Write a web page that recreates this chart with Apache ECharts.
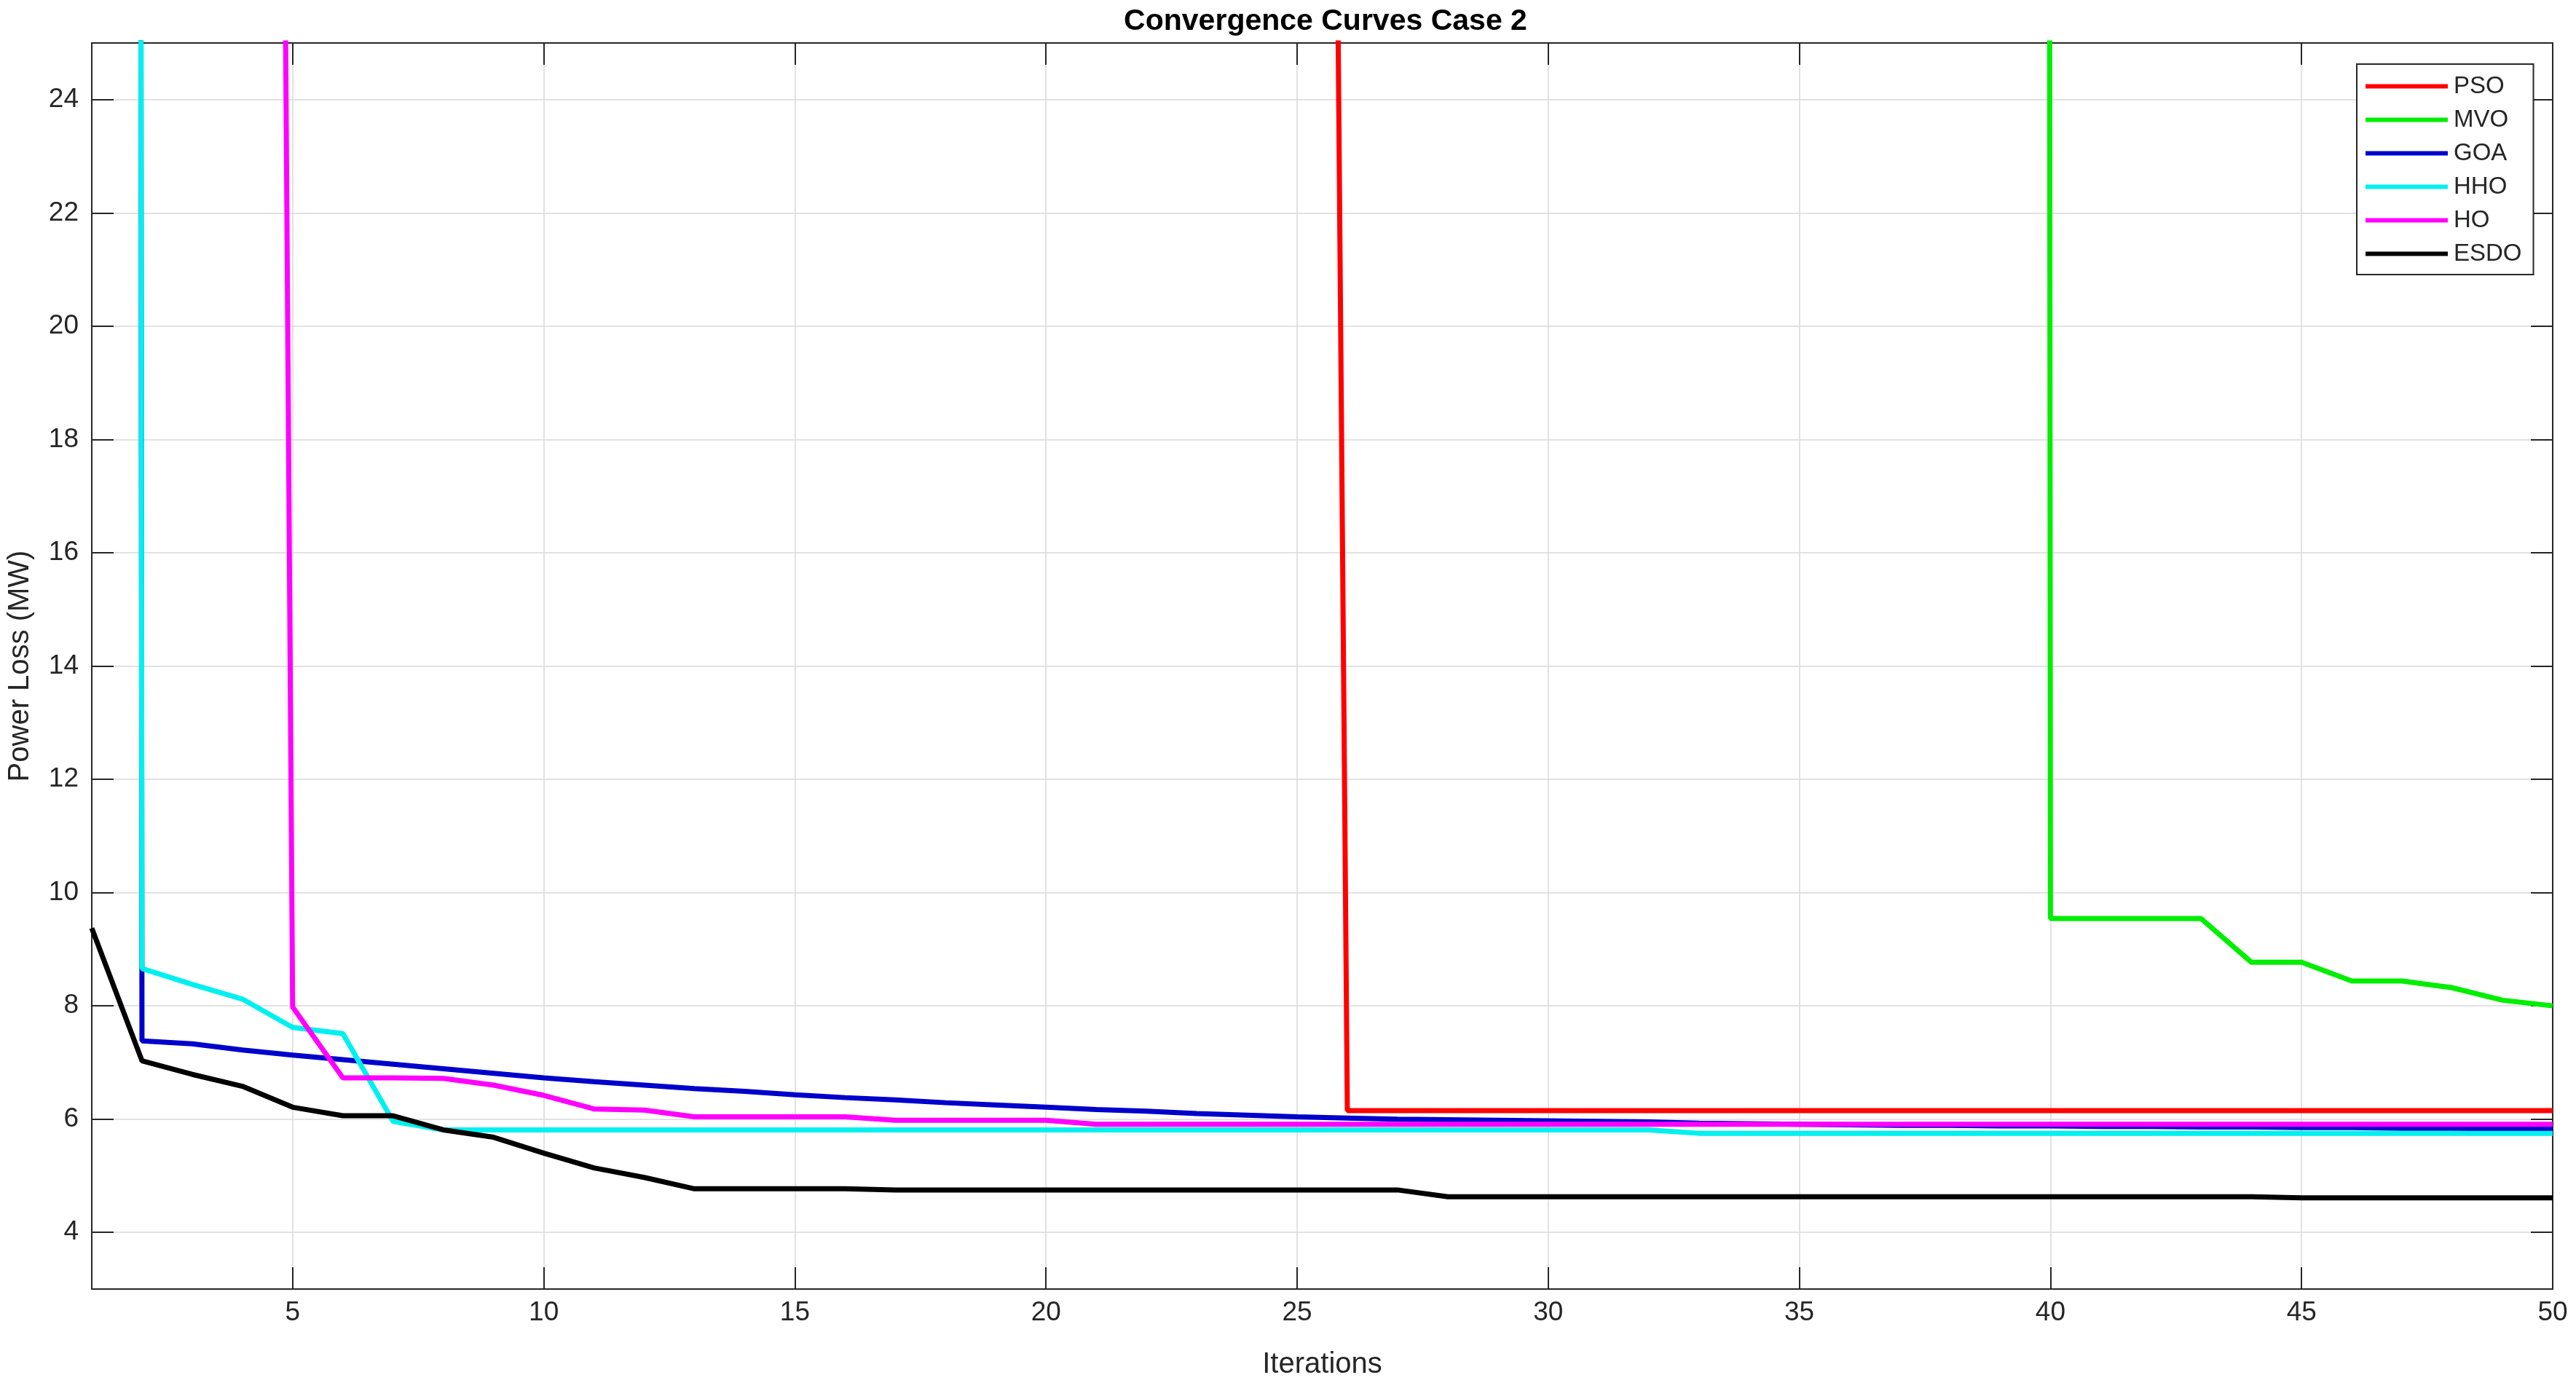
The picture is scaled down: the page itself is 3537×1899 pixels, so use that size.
<!DOCTYPE html>
<html>
<head>
<meta charset="utf-8">
<title>Convergence Curves Case 2</title>
<script src="https://cdn.jsdelivr.net/npm/echarts@6/dist/echarts.min.js"></script>
<style>
  html, body { margin: 0; padding: 0; background: #fff; }
  #chart { width: 3537px; height: 1899px; }
</style>
</head>
<body>
<div id="chart"></div>
<script>
const iterations = [1, 2, 3, 4, 5, 6, 7, 8, 9, 10, 11, 12, 13, 14, 15, 16, 17, 18, 19, 20,
  21, 22, 23, 24, 25, 26, 27, 28, 29, 30, 31, 32, 33, 34, 35, 36, 37, 38, 39, 40,
  41, 42, 43, 44, 45, 46, 47, 48, 49, 50]

// early values run far off the top of the plot, they only show as the steep drops
const pso = [110, 110, 110, 110, 110, 110, 110, 110, 110, 110, 110, 110, 110, 110, 110, 110, 110, 110, 110, 110,
  110, 110, 110, 110, 110, 6.15, 6.15, 6.15, 6.15, 6.15, 6.15, 6.15, 6.15, 6.15, 6.15, 6.15, 6.15, 6.15, 6.15, 6.15,
  6.15, 6.15, 6.15, 6.15, 6.15, 6.15, 6.15, 6.15, 6.15, 6.15]
const mvo = [1000, 1000, 1000, 1000, 1000, 1000, 1000, 1000, 1000, 1000, 1000, 1000, 1000, 1000, 1000, 1000, 1000, 1000, 1000, 1000,
  1000, 1000, 1000, 1000, 1000, 1000, 1000, 1000, 1000, 1000, 1000, 1000, 1000, 1000, 1000, 1000, 1000, 1000, 1000, 9.54,
  9.54, 9.54, 9.54, 8.77, 8.77, 8.44, 8.44, 8.32, 8.10, 8.00]
const goa = [900, 7.38, 7.33, 7.22, 7.13, 7.05, 6.97, 6.89, 6.81, 6.73, 6.66, 6.60, 6.54, 6.49, 6.43, 6.38, 6.34, 6.29, 6.25, 6.21,
  6.17, 6.14, 6.10, 6.07, 6.04, 6.02, 6.00, 5.99, 5.98, 5.97, 5.96, 5.95, 5.93, 5.92, 5.91, 5.90, 5.89, 5.89, 5.88, 5.88,
  5.87, 5.87, 5.86, 5.86, 5.85, 5.85, 5.84, 5.84, 5.83, 5.83]
const hho = [800, 8.66, 8.38, 8.12, 7.62, 7.51, 5.96, 5.81, 5.81, 5.81, 5.81, 5.81, 5.81, 5.81, 5.81, 5.81, 5.81, 5.81, 5.81, 5.81,
  5.81, 5.81, 5.81, 5.81, 5.81, 5.81, 5.81, 5.81, 5.81, 5.81, 5.81, 5.81, 5.75, 5.75, 5.75, 5.75, 5.75, 5.75, 5.75, 5.75,
  5.75, 5.75, 5.75, 5.75, 5.75, 5.75, 5.75, 5.75, 5.75, 5.75]
const ho = [130, 130, 130, 130, 7.98, 6.73, 6.73, 6.72, 6.60, 6.42, 6.18, 6.16, 6.04, 6.04, 6.04, 6.04, 5.98, 5.98, 5.98, 5.98,
  5.91, 5.91, 5.91, 5.91, 5.91, 5.91, 5.91, 5.91, 5.91, 5.91, 5.91, 5.91, 5.91, 5.91, 5.91, 5.91, 5.91, 5.91, 5.91, 5.91,
  5.91, 5.91, 5.91, 5.91, 5.91, 5.91, 5.91, 5.91, 5.91, 5.91]
const esdo = [9.37, 7.03, 6.79, 6.58, 6.21, 6.06, 6.06, 5.81, 5.68, 5.40, 5.14, 4.97, 4.77, 4.77, 4.77, 4.77, 4.75, 4.75, 4.75, 4.75,
  4.75, 4.75, 4.75, 4.75, 4.75, 4.75, 4.75, 4.63, 4.63, 4.63, 4.63, 4.63, 4.63, 4.63, 4.63, 4.63, 4.63, 4.63, 4.63, 4.63,
  4.63, 4.63, 4.63, 4.63, 4.61, 4.61, 4.61, 4.61, 4.61, 4.61]

const xTicks = [5, 10, 15, 20, 25, 30, 35, 40, 45, 50]
const yTicks = [4, 6, 8, 10, 12, 14, 16, 18, 20, 22, 24]

const names = ['PSO', 'MVO', 'GOA', 'HHO', 'HO', 'ESDO']
const colors = ['#ff0000', '#00ee00', '#0000cc', '#00f0f0', '#ff00ff', '#000000']
const values = [pso, mvo, goa, hho, ho, esdo]

const font = '"Liberation Sans", Arial, Helvetica, sans-serif'
const ink = '#262626'

const chart = echarts.init(document.getElementById('chart'))

const axisLine = { show: true, onZero: false, lineStyle: { color: ink, width: 2 } }

chart.setOption({
  animation: false,
  textStyle: { fontFamily: font, color: ink },
  title: {
    text: 'Convergence Curves Case 2',
    left: 1815,
    top: 4,
    textAlign: 'center',
    textStyle: { fontFamily: font, fontSize: 41, fontWeight: 'bold', color: '#000' }
  },
  legend: {
    orient: 'vertical',
    left: 3236,
    top: 88,
    padding: [14, 16, 12, 12],
    itemWidth: 113,
    itemHeight: 6,
    itemGap: 13,
    icon: 'rect',
    backgroundColor: '#fff',
    borderColor: ink,
    borderWidth: 2,
    borderRadius: 0,
    textStyle: { fontFamily: font, fontSize: 33, lineHeight: 33, color: ink, padding: [0, 0, 0, 3] },
    data: names
  },
  grid: { left: 124, right: 32, top: 59, bottom: 126, containLabel: false },
  xAxis: [{
    type: 'value',
    min: 1,
    max: 50,
    position: 'bottom',
    name: 'Iterations',
    nameLocation: 'middle',
    nameGap: 84,
    nameTextStyle: { fontFamily: font, fontSize: 40, color: ink },
    axisLine: axisLine,
    axisTick: { show: true, inside: true, length: 30, customValues: xTicks, lineStyle: { color: ink, width: 2 } },
    axisLabel: { customValues: xTicks, fontFamily: font, fontSize: 37, color: ink, margin: 14 },
    splitLine: { show: true, lineStyle: { color: '#d8d8d8', width: 1.5 } }
  }, {
    type: 'value',
    min: 1,
    max: 50,
    position: 'top',
    axisLine: axisLine,
    axisTick: { show: true, inside: true, length: 30, customValues: xTicks, lineStyle: { color: ink, width: 2 } },
    axisLabel: { show: false },
    splitLine: { show: false }
  }],
  yAxis: [{
    type: 'value',
    min: 3,
    max: 25,
    position: 'left',
    name: 'Power Loss (MW)',
    nameLocation: 'middle',
    nameGap: 78,
    nameTextStyle: { fontFamily: font, fontSize: 40, color: ink },
    axisLine: axisLine,
    axisTick: { show: true, inside: true, length: 30, customValues: yTicks, lineStyle: { color: ink, width: 2 } },
    axisLabel: { customValues: yTicks, fontFamily: font, fontSize: 37, color: ink, margin: 18 },
    splitLine: { show: true, lineStyle: { color: '#d8d8d8', width: 1.5 } }
  }, {
    type: 'value',
    min: 3,
    max: 25,
    position: 'right',
    axisLine: axisLine,
    axisTick: { show: true, inside: true, length: 30, customValues: yTicks, lineStyle: { color: ink, width: 2 } },
    axisLabel: { show: false },
    splitLine: { show: false }
  }],
  series: names.map((name, k) => ({
    name: name,
    type: 'line',
    xAxisIndex: 0,
    yAxisIndex: 0,
    symbol: 'none',
    clip: true,
    color: colors[k],
    lineStyle: { color: colors[k], width: 7 },
    data: iterations.map((x, i) => [x, values[k][i]])
  }))
})
</script>
</body>
</html>
